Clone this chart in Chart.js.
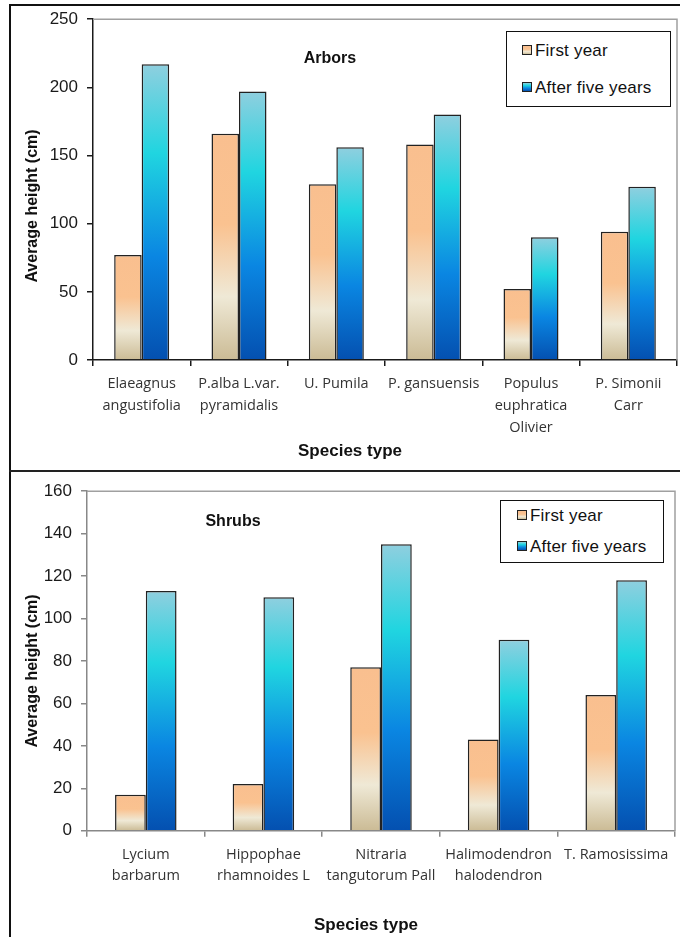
<!DOCTYPE html>
<html>
<head>
<meta charset="utf-8">
<script src="https://cdn.jsdelivr.net/npm/chart.js@4.4.1/dist/chart.umd.min.js"></script>
<style>
  html, body { margin: 0; padding: 0; background: #fff; }
  body { width: 680px; height: 937px; position: relative; overflow: hidden; font-family: "Liberation Sans", Arial, sans-serif; }
  .frame-top { position: absolute; left: 9px; top: 4px; width: 671px; height: 0; border-top: 2px solid #111; }
  .frame-left { position: absolute; left: 9px; top: 4px; width: 0; height: 933px; border-left: 2px solid #111; }
  .frame-mid { position: absolute; left: 9px; top: 470px; width: 671px; height: 0; border-top: 2px solid #222; }
  canvas { position: absolute; left: 0; }
  #arbors { top: 0; }
  #shrubs { top: 472px; }
  .legend { position: absolute; border: 1.5px solid #111; background: #fff; box-sizing: border-box; }
  .legend .item { position: absolute; left: 0; font-size: 17px; color: #111; white-space: nowrap; line-height: 20px; letter-spacing: 0.2px; }
  .legend .sw { display: inline-block; width: 8px; height: 8px; border: 1px solid #222; margin-right: 3px; vertical-align: 1px; }
  .sw.first { background: linear-gradient(#f9bf8f 0%, #fac290 40%, #efe9d6 72%, #cbbb95 100%); }
  .sw.five { background: linear-gradient(#8fcfdf 0%, #20d5e0 30%, #0a86e2 65%, #0450b0 100%); }
</style>
</head>
<body>
<div class="frame-top"></div>
<div class="frame-left"></div>
<div class="frame-mid"></div>
<canvas id="arbors" width="680" height="470"></canvas>
<canvas id="shrubs" width="680" height="465"></canvas>

<div class="legend" style="left:506px; top:31px; width:165px; height:76px;">
  <div class="item" style="left:15px; top:9px;"><span class="sw first"></span>First year</div>
  <div class="item" style="left:15px; top:46px;"><span class="sw five"></span>After five years</div>
</div>
<div class="legend" style="left:500px; top:500px; width:164px; height:63px;">
  <div class="item" style="left:16px; top:5px;"><span class="sw first"></span>First year</div>
  <div class="item" style="left:16px; top:36px;"><span class="sw five"></span>After five years</div>
</div>

<script>
// Average height of planted arbors (cm)
const arborCategories = [
  ["Elaeagnus", "angustifolia"],
  ["P.alba L.var.", "pyramidalis"],
  ["U. Pumila"],
  ["P. gansuensis"],
  ["Populus", "euphratica", "Olivier"],
  ["P. Simonii", "Carr"]
];
const arborFirstYear = [77, 166, 129, 158, 52, 94];
const arborFiveYears = [217, 197, 156, 180, 90, 127];
const arborTicks = { max: 250, step: 50 };

// Average height of planted shrubs (cm)
const shrubCategories = [
  ["Lycium", "barbarum"],
  ["Hippophae", "rhamnoides L"],
  ["Nitraria", "tangutorum Pall"],
  ["Halimodendron", "halodendron"],
  ["T. Ramosissima"]
];
const shrubFirstYear = [17, 22, 77, 43, 64];
const shrubFiveYears = [113, 110, 135, 90, 118];
const shrubTicks = { max: 160, step: 20 };

const seriesNames = ["First year", "After five years"];

const firstStops = [[0, "#f9bf8f"], [0.4, "#fac290"], [0.72, "#efe9d6"], [1, "#cbbb95"]];
const fiveStops = [[0, "#8fcfdf"], [0.3, "#20d5e0"], [0.65, "#0a86e2"], [1, "#0450b0"]];

// each bar gets its own vertical gradient running from its top to the baseline
function barGradient(stops) {
  return function (ctx) {
    const chart = ctx.chart;
    const y = chart.scales.y;
    if (!y || !chart.chartArea || ctx.parsed === undefined) return stops[0][1];
    const top = y.getPixelForValue(ctx.parsed.y);
    const bottom = y.getPixelForValue(0);
    if (!isFinite(top) || !isFinite(bottom) || top === bottom) return stops[0][1];
    const g = chart.ctx.createLinearGradient(0, top, 0, bottom);
    stops.forEach(s => g.addColorStop(s[0], s[1]));
    return g;
  };
}

// frame of the plot area plus the caption and axis titles
const decorations = {
  id: "decorations",
  beforeDatasetsDraw(chart, args, opts) {
    const { ctx, chartArea: a } = chart;
    ctx.save();
    ctx.strokeStyle = "#a0a0a0";
    ctx.lineWidth = 1.5;
    ctx.beginPath();
    ctx.moveTo(a.left, a.top);
    ctx.lineTo(a.right, a.top);
    ctx.lineTo(a.right, a.bottom);
    ctx.stroke();
    ctx.restore();
  },
  afterDraw(chart, args, opts) {
    const { ctx } = chart;
    ctx.save();
    ctx.fillStyle = "#111";
    ctx.textAlign = "center";
    ctx.textBaseline = "middle";
    ctx.font = "bold 16px 'Liberation Sans', Arial, sans-serif";
    ctx.fillText(opts.caption, opts.captionX, opts.captionY);
    ctx.font = "bold 17px 'Liberation Sans', Arial, sans-serif";
    ctx.fillText("Species type", opts.xTitleX, opts.xTitleY);
    ctx.translate(opts.yTitleX, opts.yTitleY);
    ctx.rotate(-Math.PI / 2);
    ctx.font = "bold 16px 'Liberation Sans', Arial, sans-serif";
    ctx.fillText("Average height (cm)", 0, 0);
    ctx.restore();
  }
};

function makeChart(id, labels, first, five, ticks, geo) {
  return new Chart(document.getElementById(id), {
    type: "bar",
    data: {
      labels: labels,
      datasets: [
        { label: seriesNames[0], data: first, backgroundColor: barGradient(firstStops),
          borderColor: "#222", borderWidth: 1.5, borderSkipped: "bottom" },
        { label: seriesNames[1], data: five, backgroundColor: barGradient(fiveStops),
          borderColor: "#222", borderWidth: 1.5, borderSkipped: "bottom" }
      ]
    },
    options: {
      responsive: false,
      animation: false,
      layout: { padding: { top: geo.top, right: geo.right, left: 0, bottom: 0 } },
      datasets: { bar: { categoryPercentage: geo.cat, barPercentage: 1 } },
      plugins: {
        legend: { display: false },
        tooltip: { enabled: false },
        decorations: geo.deco
      },
      scales: {
        x: {
          offset: true,
          grid: { offset: true, drawOnChartArea: false, drawTicks: true, tickLength: 6, color: geo.axis, lineWidth: 1.5 },
          border: { display: true, color: geo.axis, width: 1.5 },
          ticks: {
            autoSkip: false, maxRotation: 0, padding: 7, color: "#333",
            font: { family: "'Open Sans', sans-serif", size: 14.5, lineHeight: 1.5 }
          },
          afterFit(s) { s.height = geo.xh; }
        },
        y: {
          min: 0, max: ticks.max,
          grid: { drawOnChartArea: false, drawTicks: true, tickLength: 6, color: geo.axis, lineWidth: 1.5 },
          border: { display: true, color: geo.axis, width: 1.5 },
          ticks: {
            stepSize: ticks.step, padding: 9, color: "#1a1a1a",
            font: { family: "'Liberation Sans', Arial, sans-serif", size: 17 }
          },
          afterFit(s) { s.width = geo.yw; }
        }
      }
    },
    plugins: [decorations]
  });
}

makeChart("arbors", arborCategories, arborFirstYear, arborFiveYears, arborTicks, {
  top: 17.5, right: 3, cat: 0.565, xh: 110, yw: 93, axis: "#1a1a1a",
  deco: { caption: "Arbors", captionX: 330, captionY: 59, xTitleX: 350, xTitleY: 451, yTitleX: 33, yTitleY: 206 }
});

makeChart("shrubs", shrubCategories, shrubFirstYear, shrubFiveYears, shrubTicks, {
  top: 14.7, right: 5, cat: 0.523, xh: 106.3, yw: 87, axis: "#888",
  deco: { caption: "Shrubs", captionX: 233, captionY: 50, xTitleX: 366, xTitleY: 453, yTitleX: 33, yTitleY: 199 }
});
</script>
</body>
</html>
